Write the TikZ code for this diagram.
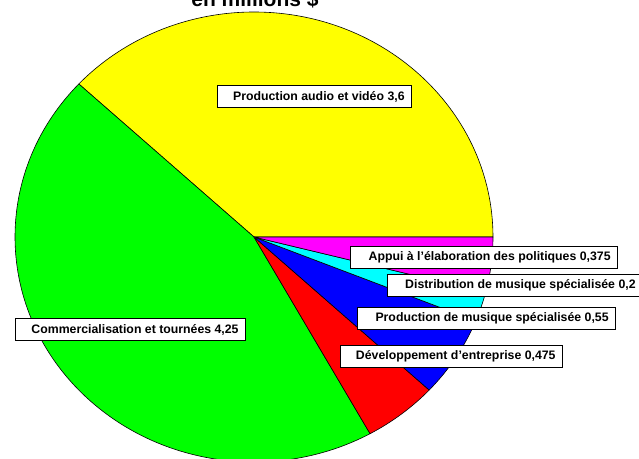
\documentclass[tikz,border=0pt]{standalone}
\usepackage{fontspec}
\setmainfont{Liberation Sans}
\usetikzlibrary{positioning}
\definecolor{pieyellow}{RGB}{255,255,0}
\definecolor{piegreen}{RGB}{0,255,0}
\definecolor{piered}{RGB}{255,0,0}
\definecolor{pieblue}{RGB}{0,0,255}
\definecolor{piecyan}{RGB}{0,255,255}
\definecolor{piemagenta}{RGB}{255,0,255}
\tikzstyle{slice} = [draw=black, line width=0.6pt, line join=round]
\tikzstyle{lbl} = [rectangle, draw=black, fill=white, line width=0.8pt, inner xsep=7pt, minimum height=22pt, anchor=east, font=\bfseries\fontsize{12.3}{14}\selectfont]

\begin{document}
\begin{tikzpicture}[x=1pt, y=1pt]
\useasboundingbox (-254,-221) rectangle (385,237);

% title, mostly above the picture
\node (title) [anchor=base, font=\bfseries\fontsize{21}{24}\selectfont] at (1,230) {en millions \$};

% pie slices
\filldraw [slice, fill=pieyellow] (0,0) -- (0:239pt and 225pt) arc [start angle=0, end angle=137.14, x radius=239pt, y radius=225pt] -- cycle;
\filldraw [slice, fill=piegreen] (0,0) -- (137.14:239pt and 225pt) arc [start angle=137.14, end angle=299.05, x radius=239pt, y radius=225pt] -- cycle;
\filldraw [slice, fill=piered] (0,0) -- (299.05:239pt and 225pt) arc [start angle=299.05, end angle=317.14, x radius=239pt, y radius=225pt] -- cycle;
\filldraw [slice, fill=pieblue] (0,0) -- (317.14:239pt and 225pt) arc [start angle=317.14, end angle=338.10, x radius=239pt, y radius=225pt] -- cycle;
\filldraw [slice, fill=piecyan] (0,0) -- (338.10:239pt and 225pt) arc [start angle=338.10, end angle=345.71, x radius=239pt, y radius=225pt] -- cycle;
\filldraw [slice, fill=piemagenta] (0,0) -- (345.71:239pt and 225pt) arc [start angle=345.71, end angle=360, x radius=239pt, y radius=225pt] -- cycle;

% labels
\node (audio) [lbl] at (158,140.5) {\hspace*{9pt}Production audio et vidéo 3,6};
\node (appui) [lbl] at (364,-20.5) {\hspace*{11pt}Appui à l'élaboration des politiques 0,375};
\node (distrib) [lbl] at (389,-48.5) {\hspace*{11pt}Distribution de musique spécialisée 0,2};
\node (prodmus) [lbl] at (362,-81.5) {\hspace*{11pt}Production de musique spécialisée 0,55};
\node (dev) [lbl] at (309,-119) {\hspace*{9pt}Développement d'entreprise 0,475};
\node (commerc) [lbl] at (-8,-92.5) {\hspace*{9pt}Commercialisation et tournées 4,25};
\end{tikzpicture}
\end{document}
